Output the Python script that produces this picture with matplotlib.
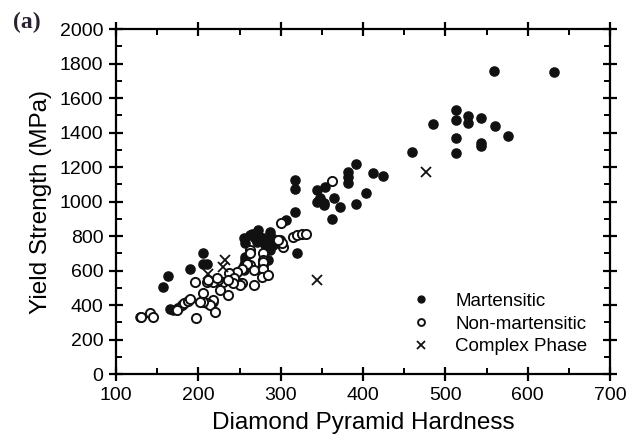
import matplotlib
matplotlib.use("Agg")
import matplotlib.pyplot as plt
from matplotlib.ticker import MultipleLocator

# hardness (HV) and yield strength (MPa)
mart_hv = [632, 559, 513, 513, 528, 528, 543, 485, 560, 576, 513, 543, 543, 513,
           459, 392, 382, 382, 382, 412, 424, 403, 344, 354, 344, 352, 348, 365,
           372, 391, 362, 346, 352,
           317, 317, 317, 307, 320,
           255, 263, 273, 287, 289, 279, 271, 283, 291, 257, 265, 275, 281, 287,
           257, 255, 257, 285, 269, 273,
           206, 206, 210, 190, 163, 157, 166, 169, 129, 218, 255]
mart_ys = [1752, 1757, 1533, 1471, 1494, 1456, 1487, 1448, 1438, 1380, 1371, 1340, 1324, 1282,
           1285, 1220, 1173, 1144, 1105, 1163, 1150, 1051, 1067, 1086, 999, 990, 1018, 1018,
           966, 985, 897, 1009, 980,
           1125, 1071, 941, 893, 700,
           787, 806, 835, 825, 787, 787, 767, 729, 748, 680, 815, 777, 748, 719,
           758, 632, 661, 661, 787, 806,
           700, 641, 641, 609, 570, 503, 378, 371, 329, 419, 603]

nonmart_hv = [362, 300, 315, 320, 326, 331, 299, 303, 263, 301, 279, 279, 279, 263, 263,
              259, 253, 267, 247, 237, 279, 279, 277, 285, 267, 253, 247, 230, 224, 218,
              210, 243, 251, 242, 236,
              226, 236, 206, 218, 210, 214, 220, 206,
              130, 141, 145, 175, 180, 183, 187, 190, 174, 197, 196, 202, 212, 223, 297]
nonmart_ys = [1119, 875, 795, 805, 810, 815, 777, 738, 719, 758, 700, 661, 632, 632, 700,
              641, 612, 603, 593, 584, 651, 612, 564, 574, 516, 526, 535, 535, 545, 535,
              535, 555, 516, 526, 545,
              487, 458, 468, 429, 410, 400, 361, 420,
              330, 355, 329, 385, 400, 410, 425, 435, 371, 323, 535, 417, 545, 555, 777]

cp_hv = [477, 344, 232, 230, 212]
cp_ys = [1171, 545, 661, 622, 578]

plt.rcParams['font.family'] = ['Liberation Sans', 'DejaVu Sans']

fig = plt.figure(figsize=(6.27, 4.47), dpi=100)
ax = fig.add_axes([0.185, 0.163, 0.788, 0.772])

ax.plot(mart_hv, mart_ys, 'o', color='#111111', markersize=6.6, label='Martensitic')
ax.plot(nonmart_hv, nonmart_ys, 'o', markerfacecolor='white', markeredgecolor='#111111',
        markeredgewidth=1.4, markersize=6.6, label='Non-martensitic')
ax.plot(cp_hv, cp_ys, 'x', color='#111111', markersize=7.5, markeredgewidth=1.3,
        label='Complex Phase')

ax.set_xlim(100, 700)
ax.set_ylim(0, 2000)
ax.xaxis.set_major_locator(MultipleLocator(100))
ax.xaxis.set_minor_locator(MultipleLocator(50))
ax.yaxis.set_major_locator(MultipleLocator(200))
ax.yaxis.set_minor_locator(MultipleLocator(100))

for s in ax.spines.values():
    s.set_linewidth(1.6)
ax.tick_params(which='major', direction='inout', length=10, width=1.6,
               top=True, right=True, labelsize=14, pad=4)
ax.tick_params(which='minor', direction='in', length=4, width=1.4, top=True, right=True)

ax.set_xlabel('Diamond Pyramid Hardness', fontsize=17.5, labelpad=6)
ax.set_ylabel('Yield Strength (MPa)', fontsize=17.5, labelpad=6)

ax.legend(loc='upper left', bbox_to_anchor=(0.565, 0.285), frameon=False, fontsize=13.5,
          markerscale=0.75, handlelength=1.0, handletextpad=1.3, labelspacing=0.3,
          borderpad=0.4)

fig.text(0.02, 0.95, '(a)', fontsize=17, fontweight='bold', family='Liberation Serif',
         color='#2a2230', va='center', ha='left')

fig.savefig('out.png', dpi=100)
